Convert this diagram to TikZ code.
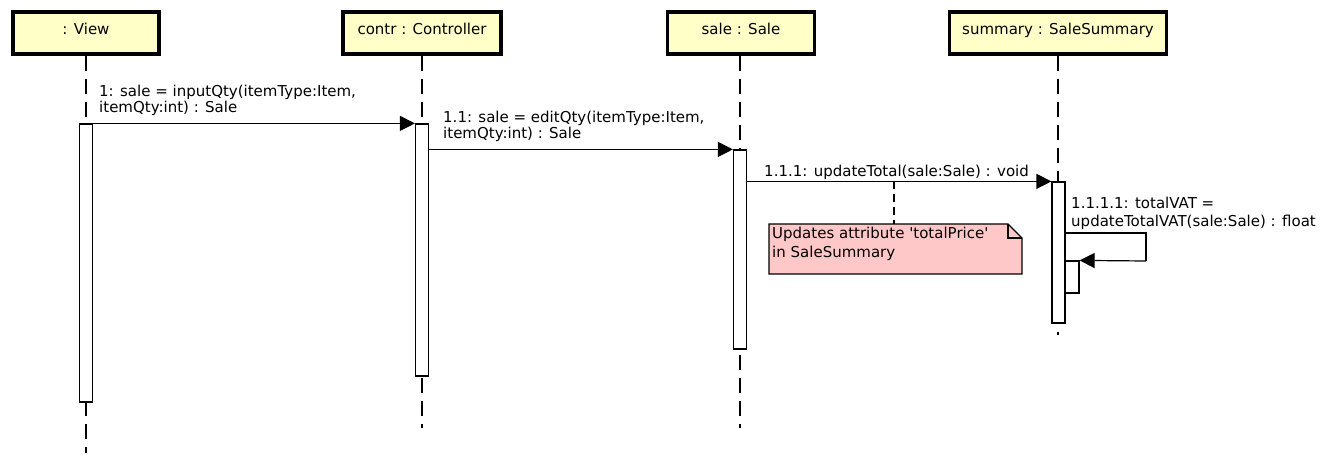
\documentclass[tikz,border=0pt]{standalone}
\usepackage{fontspec}
\setmainfont{DejaVu Sans}
\usetikzlibrary{arrows.meta}
\definecolor{headfill}{RGB}{255,255,200}
\definecolor{notefill}{RGB}{255,200,200}
\begin{document}
\begin{tikzpicture}[x=1pt,y=-1pt,
  font=\fontsize{15}{17}\selectfont,
  headbox/.style={draw, line width=3.4pt, fill=headfill, inner sep=0pt,
    text height=23pt, text depth=19pt},
  lifeline/.style={line width=1.3pt, dash pattern=on 15pt off 8pt},
  actbox/.style={draw, fill=white, line width=1.2pt, inner sep=0pt, minimum width=13pt},
  msg/.style={line width=1.2pt, -{Triangle[length=15pt,width=15pt]}},
  lbl/.style={anchor=base west, inner sep=0pt},
  notelink/.style={line width=1.2pt, dash pattern=on 8pt off 5pt}]
\useasboundingbox (0,0) rectangle (1337,468);

% headers
\node[headbox, minimum width=146pt] (hview) at (86,33) {: View};
\node[headbox, minimum width=158pt] (hctr) at (422,33) {contr : Controller};
\node[headbox, minimum width=147pt] (hsale) at (741,33) {sale : Sale};
\node[headbox, minimum width=217pt] (hsum) at (1058,33) {summary : SaleSummary};

% lifeline ends
\coordinate (eview) at (86,453);
\coordinate (ectr) at (422,428);
\coordinate (esale) at (740,428);
\coordinate (esum) at (1058,335);

\draw[lifeline] (hview.south -| eview) -- (eview);
\draw[lifeline] (hctr.south -| ectr) -- (ectr);
\draw[lifeline] (hsale.south -| esale) -- (esale);
\draw[lifeline] (hsum.south -| esum) -- (esum);

% activations
\node[actbox, minimum height=278pt] (aview) at (86,263) {};
\node[actbox, minimum height=252pt] (actr) at (422,250) {};
\node[actbox, minimum height=199pt] (asale) at (740,249.5) {};
\node[actbox, minimum height=141pt] (asum) at (1058.5,252.5) {};
\node[actbox, minimum width=14pt, minimum height=32pt] (anest) at (1072,277) {};

% messages
\draw[msg] (aview.north east) -- (actr.north west);
\node[lbl] (l1a) at (99,96) {1: sale = inputQty(itemType:Item,};
\node[lbl] (l1b) at (99,113) {itemQty:int) : Sale};

\draw[msg] (actr.east |- asale.north) -- (asale.north west);
\node[lbl] (l2a) at (443,122) {1.1: sale = editQty(itemType:Item,};
\node[lbl] (l2b) at (443,139) {itemQty:int) : Sale};

\draw[msg] (asale.east |- asum.north) -- coordinate[pos=0.49] (notept) (asum.north west);
\node[lbl] (l3) at (764,176) {1.1.1: updateTotal(sale:Sale) : void};

\coordinate (selfa) at (1065,233);
\coordinate (selfb) at (1146,233);
\coordinate (selfc) at (1146,261);
\draw[line width=1.2pt] (selfa) -- (selfb) -- (selfc);
\draw[msg] (selfc) -- (anest.north east);
\node[lbl] (l4a) at (1071,208) {1.1.1.1: totalVAT =};
\node[lbl] (l4b) at (1071,226) {updateTotalVAT(sale:Sale) : float};

% note
\draw[line width=1.2pt, fill=notefill]
  (769,224) -- (1008,224) -- (1022,238) -- (1022,274) -- (769,274) -- cycle;
\draw[line width=1.2pt] (1008,224) -- (1008,238) -- (1022,238);
\node[lbl] (nt1) at (772,238) {Updates attribute \textquotesingle totalPrice\textquotesingle};
\node[lbl] (nt2) at (772,257) {in SaleSummary};
\coordinate (notetop) at (894,224);
\draw[notelink] (notept -| notetop) -- (notetop);
\end{tikzpicture}
\end{document}
